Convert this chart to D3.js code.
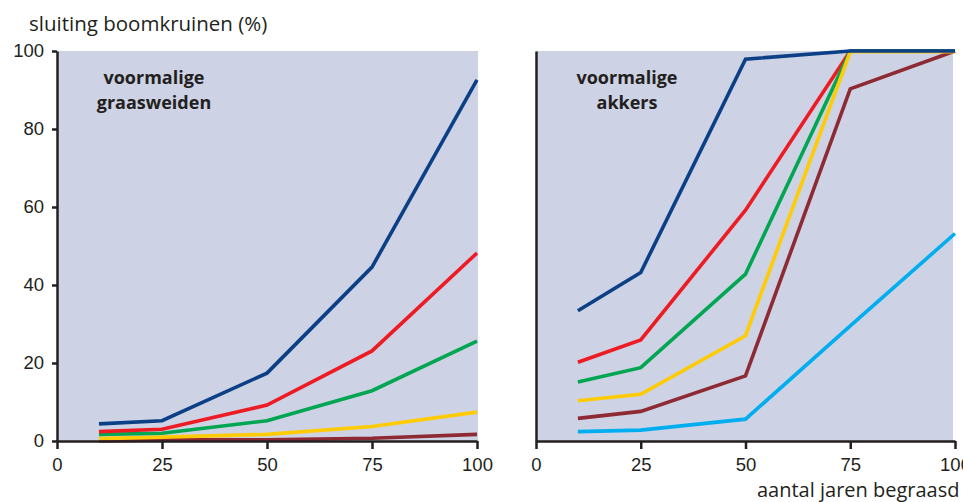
<!DOCTYPE html>
<html>
<head>
<meta charset="utf-8">
<script src="https://cdn.jsdelivr.net/npm/d3@7"></script>
<style>
  body { margin: 0; background: #fff; }
  svg { font-family: "Open Sans", sans-serif; }
  .axis path, .axis line { stroke: #231f20; stroke-width: 2.5; }
  .axis text { fill: #231f20; font-size: 18.5px; }
</style>
</head>
<body>
<div id="chart-area"></div>
<script>
// jaren begraasd
const years = [10, 25, 50, 75, 100]
const xTicks = [0, 25, 50, 75, 100]
const yTicks = [0, 20, 40, 60, 80, 100]

// voormalige graasweiden
const weideBlue = [4.4, 5.2, 17.4, 44.6, 92.6]
const weideRed = [2.4, 3.0, 9.2, 23.1, 48.2]
const weideGreen = [1.7, 2.0, 5.2, 12.9, 25.6]
const weideYellow = [0.6, 1.0, 1.7, 3.7, 7.4]
const weideDarkRed = [0, 0.3, 0.3, 0.7, 1.7]

// voormalige akkers
const akkerBlue = [33.4, 43.2, 97.9, 100, 100]
const akkerRed = [20.2, 25.9, 59.2, 100, 100]
const akkerGreen = [15.1, 18.8, 42.8, 100, 100]
const akkerYellow = [10.3, 12.0, 27.0, 99.8, 99.8]
const akkerDarkRed = [5.8, 7.6, 16.7, 90.3, 100]
const akkerLightBlue = [2.4, 2.8, 5.6, 29.5, 53.2]

const colors = {
  blue: "#0b3f86",
  red: "#ed1c24",
  green: "#00a651",
  yellow: "#ffcb05",
  darkRed: "#8e2a33",
  lightBlue: "#00aeef",
}

const width = 963
const height = 502

const svg = d3.select("#chart-area").append("svg")
  .attr("width", width)
  .attr("height", height)

const y = d3.scaleLinear()
  .domain([0, 100])
  .range([441, 51])

const panels = [
  {
    left: 57, right: 477, bgRight: 478,
    title: ["voormalige", "graasweiden"], titleX: 154, yLabels: true,
    series: [
      [weideDarkRed, colors.darkRed],
      [weideYellow, colors.yellow],
      [weideGreen, colors.green],
      [weideRed, colors.red],
      [weideBlue, colors.blue],
    ],
  },
  {
    left: 536, right: 955, bgRight: 953,
    title: ["voormalige", "akkers"], titleX: 627, yLabels: false,
    series: [
      [akkerLightBlue, colors.lightBlue],
      [akkerDarkRed, colors.darkRed],
      [akkerRed, colors.red],
      [akkerGreen, colors.green],
      [akkerYellow, colors.yellow],
      [akkerBlue, colors.blue],
    ],
  },
]

panels.forEach(p => {
  const x = d3.scaleLinear()
    .domain([0, 100])
    .range([p.left, p.right])

  const g = svg.append("g")

  g.append("rect")
    .attr("x", p.left)
    .attr("y", y(100))
    .attr("width", p.bgRight - p.left)
    .attr("height", y(0) - y(100))
    .attr("fill", "#cdd2e4")

  // lijnen
  const line = d3.line()
    .x((d, i) => x(years[i]))
    .y(d => y(d))

  p.series.forEach(([values, color]) => {
    g.append("path")
      .datum(values)
      .attr("d", line)
      .attr("fill", "none")
      .attr("stroke", color)
      .attr("stroke-width", 3.6)
      .attr("stroke-linejoin", "miter")
  })

  // assen
  const xAxisCall = d3.axisBottom(x)
    .tickValues(xTicks)
    .tickSize(8)
    .tickSizeOuter(0)

  g.append("g")
    .attr("class", "axis")
    .attr("transform", `translate(0, ${y(0)})`)
    .call(xAxisCall)
    .selectAll("text")
    .attr("y", 17)

  const yAxisCall = d3.axisLeft(y)
    .tickValues(p.yLabels ? yTicks : [])
    .tickSize(5)
    .tickSizeOuter(0)
    .tickPadding(8)

  const yg = g.append("g")
    .attr("class", "axis")
    .attr("transform", `translate(${p.left}, 0)`)
    .call(yAxisCall)
  yg.selectAll(".tick line").attr("stroke-width", 1.5)
  yg.selectAll("text").attr("dy", "0.3em")

  // titel in paneel
  g.append("text")
    .attr("x", p.titleX)
    .attr("y", 84)
    .attr("text-anchor", "middle")
    .attr("font-size", "18px")
    .attr("font-weight", "bold")
    .attr("fill", "#231f20")
    .selectAll("tspan")
    .data(p.title)
    .enter().append("tspan")
    .attr("x", p.titleX)
    .attr("dy", (d, i) => i === 0 ? 0 : 25)
    .text(d => d)
})

svg.append("text")
  .attr("x", 29)
  .attr("y", 31)
  .attr("font-size", "20.5px")
  .attr("fill", "#231f20")
  .text("sluiting boomkruinen (%)")

svg.append("text")
  .attr("x", 757)
  .attr("y", 497)
  .attr("font-size", "20px")
  .attr("fill", "#231f20")
  .text("aantal jaren begraasd")
</script>
</body>
</html>
